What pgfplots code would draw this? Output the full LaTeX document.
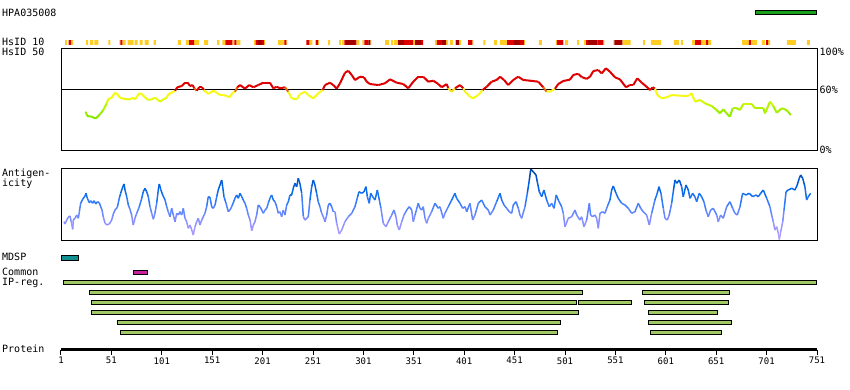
\documentclass[border=0pt]{standalone}
\usepackage{pgfplots}
\pgfplotsset{compat=1.18}
\usepackage{fontspec}
\setmainfont{DejaVu Sans Mono}
\definecolor{bandY}{RGB}{255,204,34}
\definecolor{bandR}{RGB}{222,0,0}
\definecolor{bandD}{RGB}{165,0,0}
\definecolor{mdsp}{RGB}{16,144,144}
\definecolor{common}{RGB}{200,32,156}
\definecolor{ipreg}{RGB}{160,200,100}
\definecolor{topgreen}{RGB}{26,160,26}
\pgfplotsset{
  colormap={hsid}{rgb255(30pt)=(130,228,0) rgb255(38pt)=(155,238,0) rgb255(45pt)=(200,248,0) rgb255(52pt)=(245,250,20) rgb255(59pt)=(250,248,30) rgb255(60pt)=(222,0,0) rgb255(100pt)=(222,0,0)},
  colormap={antig}{rgb255(0pt)=(185,165,255) rgb255(12pt)=(160,150,255) rgb255(22pt)=(125,140,255) rgb255(32pt)=(80,130,255) rgb255(42pt)=(30,118,245) rgb255(52pt)=(0,100,228) rgb255(62pt)=(0,78,196) rgb255(72pt)=(0,58,150)},
  trk/.style={scale only axis, width=756bp, xmin=1, xmax=751, anchor=north west},
  feat/.style={draw=black, line width=0.8bp},
}
\begin{document}
\begin{tikzpicture}[font=\fontsize{10bp}{11bp}\selectfont]
\path[fill=white,use as bounding box] (0,0) rectangle (850bp,-390bp);

% labels
\node[anchor=base west,inner sep=0] at (2bp,-16bp) {HPA035008};
\node[anchor=base west,inner sep=0] at (2bp,-45bp) {HsID 10};
\node[anchor=base west,inner sep=0] at (2bp,-55.7bp) {HsID 50};
\node[anchor=base west,inner sep=0] at (2bp,-176bp) {Antigen-};
\node[anchor=base west,inner sep=0] at (2bp,-186.5bp) {icity};
\node[anchor=base west,inner sep=0] at (2bp,-260.5bp) {MDSP};
\node[anchor=base west,inner sep=0] at (2bp,-275.3bp) {Common};
\node[anchor=base west,inner sep=0] at (2bp,-285bp) {IP-reg.};
\node[anchor=base west,inner sep=0] at (2bp,-352.5bp) {Protein};
\node[anchor=base west,inner sep=0] at (819.5bp,-55.3bp) {100\%};
\node[anchor=base west,inner sep=0] at (819.5bp,-93.3bp) {60\%};
\node[anchor=base west,inner sep=0] at (819.5bp,-153.3bp) {0\%};

% top green bar
\begin{axis}[trk, at={(61bp,-10bp)}, height=5bp, ymin=0, ymax=1, hide axis, clip=false]
\addplot[feat, fill=topgreen] coordinates {(690.1,0.12)(750.7,0.12)(750.7,0.92)(690.1,0.92)} -- cycle;
\end{axis}

% HsID 10 band
\begin{axis}[trk, at={(61bp,-40bp)}, height=5bp, ymin=0, ymax=1, hide axis]
\addplot[const plot, fill=bandY, draw=none] coordinates {(1,0)
(5,1)(7,0)(11,1)(13,0)(26,1)(28,0)(30,1)(33,0)(34,1)(38,0)(48,1)(50,0)
(59,1)(60,0)(62,1)(65,0)(67,1)(73,0)(74,1)(77,0)(79,1)(82,0)(84,1)(88,0)
(93,1)(95,0)(117,1)(120,0)(125,1)(128,0)(133,1)(138,0)(143,1)(147,0)
(156,1)(158,0)(161,1)(164,0)(171,1)(173,0)(175,1)(179,0)(192.5,1)(194,0)
(202.5,1)(203.5,0)(216.5,1)(222.5,0)(224.5,1)(225.5,0)(247.3,1)(250.3,0)
(253,1)(254,0)(256,1)(257,0)(266,1)(268,0)(277,1)(279,0)(280,1)(282,0)
(294,1)(297,0)(300,1)(302,0)(308,1)(309,0)(322.5,1)(326.5,0)(328.5,1)(330.5,0)
(331.5,1)(335.5,0)(350.3,1)(352.3,0)(372,1)(374,0)(383,1)(385,0)(387,1)(390,0)
(392,1)(393,0)(396,1)(398,0)(409,1)(410,0)(420,1)(422,0)(430.5,1)(433.5,0)
(436.5,1)(443.5,0)(460.5,1)(461.5,0)(475,1)(478,0)(492,1)(493,0)(499,1)(500,0)
(501,1)(504,0)(513,1)(515,0)(520,1)(522,0)(539,1)(540,0)(549,1)(550,0)
(558,1)(566,0)(578.4,1)(580.4,0)(586.3,1)(596.3,0)(609,1)(614,0)(616,1)(618,0)
(627,1)(630,0)(636,1)(641,0)(643,1)(646,0)(676.6,1)(683.5,0)(685.5,1)(691.5,0)
(696.4,1)(699.4,0)(702.4,1)(704.4,0)(721,1)(730,0)(741,1)(744,0)(751,0)} \closedcycle;
\addplot[const plot, fill=bandR, draw=none] coordinates {(1,0)
(8.5,1)(11,0)(60,1)(62,0)(128,1)(133,0)(164,1)(171,0)(173,1)(175,0)
(194,1)(196.5,0)(200.5,1)(202.5,0)(222.5,1)(224.5,0)(244.3,1)(247.3,0)
(254,1)(256,0)(282,1)(283.5,0)(292.5,1)(294,0)(302,1)(306,0)(341.3,1)(350.3,0)
(358.3,1)(360.3,0)(374,1)(379,0)(405,1)(409,0)(443.5,1)(450.5,0)(456.5,1)(460.5,0)
(493,1)(499,0)(522,1)(524,0)(533,1)(539,0)(630,1)(636,0)(641,1)(643,0)
(683.5,1)(685.5,0)(700.4,1)(702.4,0)(751,0)} \closedcycle;
\addplot[const plot, fill=bandD, draw=none] coordinates {(1,0)
(196.5,1)(200.5,0)(283.5,1)(292.5,0)(306,1)(308,0)(335.5,1)(341.3,0)
(352.3,1)(358.3,0)(379,1)(383,0)(393,1)(396,0)(450.5,1)(456.5,0)
(524,1)(533,0)(550,1)(558,0)(751,0)} \closedcycle;
\end{axis}

% HsID 50
\begin{axis}[trk, at={(61bp,-48.5bp)}, height=101.5bp, ymin=0, ymax=100,
  xtick=\empty, ytick=\empty, axis line style={line width=1bp},
  colormap name=hsid, point meta min=30, point meta max=100]
\addplot[black, line width=1bp] coordinates {(1,60) (751,60)};
\addplot[mesh, point meta=y, line width=2bp] table {
25.5 37.7
27 33.5
31.5 32.8
34.7 31.2
36.4 31.8
39.7 35.2
43 39.4
46.3 46
47.9 50
51.3 51.5
54.6 56.4
56.9 54.9
59.5 51.5
64.5 50.2
69.5 49.9
72.7 51.5
74.4 49.9
78.7 55.9
81 55.2
84.3 51.9
87.6 49.3
91 49.9
94.3 51.5
97.5 49.3
99.2 47.6
102.5 49.9
105.9 51.5
107.4 54.9
110.8 56.4
114.1 58.4
116.4 61.8
120.7 63
124 66.3
126.7 66.3
129 63
131.6 64
133.2 60.8
135.6 58.4
138.2 61.8
140.9 61.8
142.9 59.1
147.1 55.2
152.1 58.4
155.5 56.4
158.7 54.2
162 54.2
165.4 53.2
168 51.9
171.3 56.4
173.6 57.4
175.9 61.8
178.6 64
183.5 60.5
187.8 64
191.8 61.8
196.7 64
201.7 66.3
208.3 66.3
211.6 60.8
215 62.3
218.3 60.8
223.2 61.8
226.5 57.4
229.9 50.9
234.8 49.9
238.1 55
243 57.4
246.3 54.2
251.3 50.9
256.2 55.8
260.6 59.1
262.9 64
267.8 66.3
271.1 64
274.5 60.5
277.8 65.7
282.7 76.1
286 78.1
289.4 73.9
292.7 68.9
297.6 72.2
301.6 71.6
304.3 67.3
307.5 65
315.8 64
322.4 65.7
327.4 69.6
334 66.3
340.6 65
345.5 60.8
350.5 67.3
355.4 72.2
360.4 72.2
365.4 67.3
370.3 68.3
375.3 65
378.7 61.8
383.6 65
385.2 60.8
388.6 57.4
391.9 60.8
396.8 64
400.1 60.8
401.8 57.4
406.7 52.5
410 50.9
415 54.2
419.3 59.1
423.3 62.3
428.2 67.3
433.2 69
436.5 72.2
440.5 69
444.7 64
449.7 69
454.6 72.2
459.6 69
466.2 68.3
474.5 67.3
479.4 61.8
482.8 57.4
486.1 57.5
491 60.3
494.3 65
499.3 68
505.9 69.3
509.2 73.9
514.2 75.1
517.5 71.9
522.5 70.1
525.8 72.2
529.1 77.8
534 78.8
537.4 75.5
541.6 80.5
545.6 77.1
550.6 71.6
555.5 69.6
561.5 61.8
565.4 64
568.7 64
572.7 70.6
577.1 66.3
582 62.3
585.3 59.1
588 61.8
590.3 60.5
592.6 54.2
596.9 50.9
601.9 51.9
606.8 54.2
615 53.5
623.3 53.2
626.6 55.8
629.9 47.6
634.9 49.3
639.8 46
646.5 43.3
651.4 39.4
654.7 36.1
658 40.1
661.4 36.1
664.6 32.8
667.3 41.1
671.3 41.1
674.6 39.4
677.9 45.3
686.2 45.3
689.5 41.1
697.8 41.1
699.4 36.1
704.4 47.6
707.7 43.3
711 36.7
716 41.1
719.2 40.1
722.5 37.7
724.9 34.5
};
\end{axis}

% Antigenicity
\begin{axis}[trk, at={(61bp,-168.3bp)}, height=71.7bp, ymin=0, ymax=71.7,
  xtick=\empty, ytick=\empty, axis line style={line width=1bp},
  colormap name=antig, point meta min=0, point meta max=72]
\addplot[mesh, point meta=y, line width=1.5bp] table {
4.0 18.3
5.0 16
6.7 20
8.2 22.7
9.9 24
11.2 18.3
12.6 10.7
13.2 20
14.9 21.7
16.6 25
18.2 21.7
19.2 28.3
20.5 36.7
22.5 40.7
24.8 44
25.8 46.7
27.1 41.7
29.1 37.3
30.5 39.3
32.4 36.7
33.7 39.3
35.7 36
37.0 38.3
39.0 37.3
40.4 33.3
41.7 30
43.0 22.7
44.6 17.3
46.3 15
48.9 16
51.3 20
52.9 26
54.6 30
56.9 32.7
58.8 41.7
60.2 46.7
62.2 52.7
63.5 56
64.5 50
66.2 43.3
67.8 35
69.4 30.7
71.1 25
72.7 15
74.4 21.7
76.1 26.7
78.7 33.3
81.1 41.7
82.6 48.3
84.3 51.7
86.0 48.3
87.6 43.3
89.3 33.3
91.0 26.7
92.6 20.7
94.2 26.7
95.9 36.7
97.5 50
98.5 56
99.9 50.7
101.9 45
104.2 40
105.9 33.3
107.4 28.3
109.1 23.3
110.8 31.7
112.4 25
114.1 18.3
115.8 26.7
117.4 25
119.0 28.3
120.7 25
122.3 31.7
124.0 21.7
125.7 18.3
127.3 11.7
129.0 15
130.7 10
132.2 5
133.9 13.3
135.6 18.3
137.2 21.7
138.9 15
140.6 20
142.2 23.3
143.8 26.7
145.5 33.3
147.1 43.3
148.8 42.7
150.5 33.3
152.1 31.7
153.8 35
155.5 43.3
157.0 50
158.7 55
160.4 60
161.4 53.3
162.7 43.3
164.7 36.7
167.0 28.3
168.6 30
170.3 33.3
171.9 37.3
173.6 41.7
175.3 45
176.9 41.7
178.6 46.7
180.3 43.3
181.8 40
183.5 36.7
185.2 31.7
186.8 25
188.5 20
190.2 9.3
191.8 15
193.4 18.3
195.1 25
196.7 35
198.4 33.3
200.1 30
201.7 26.7
203.4 30
205.1 31.7
206.6 36.7
208.3 41.7
210.0 45
211.6 40
213.3 38.3
215.0 33.3
216.6 26.7
218.2 28.3
219.9 23.3
221.5 30
223.2 25
224.9 35
226.5 38.3
228.2 45
229.8 45
231.5 52
233.1 56.7
234.8 53.3
236.4 61.7
238.1 56
239.8 46.7
241.4 23.3
243.0 20
246.3 23.3
248.0 40
249.7 53.3
251.3 60
252.9 55
254.6 46.7
256.2 38.3
257.9 33.3
259.6 26.7
261.2 23.3
262.9 18.3
264.6 25
266.2 35
267.8 36.7
269.5 33.3
271.1 28.3
272.8 28.3
274.5 16.7
277.1 6
279.5 10
282.7 18.3
286.0 23.3
289.4 26.7
292.6 33.3
294.9 41.7
296.6 48.3
299.3 46.7
301.6 48.3
303.6 53.3
304.9 43.3
306.8 36.7
308.2 46.7
310.2 43.3
312.5 40
314.8 50
316.8 40
318.4 31.7
320.7 16.7
323.4 13.3
325.7 18.3
329.1 25
331.3 30
333.3 23.3
334.6 15
336.6 10
339.0 18.3
341.3 25
344.0 30
346.5 33.3
348.9 30
350.5 18.3
352.2 25
355.4 36.7
357.1 31.7
358.8 30
360.4 33.3
362.1 21.7
363.8 16.7
365.4 21.7
368.7 28.3
372.0 36.7
375.3 31.7
377.0 33.3
380.2 21.7
381.9 26.7
385.2 33.3
388.6 40
391.8 46.7
393.5 41.7
396.8 36.7
399.5 31.7
401.8 33.3
403.5 28.3
406.7 36.7
409.4 20
411.7 25
415.0 36.7
418.3 40
421.6 33.3
424.9 30
426.6 25
429.8 30
433.2 38.3
436.5 46.7
438.2 40
440.5 35
443.1 31.7
445.7 28.3
448.1 26.7
449.7 35
452.4 38.3
454.7 31.7
456.3 25
458.0 21.7
461.3 33.3
463.6 46.7
465.6 60
467.0 70.7
469.5 68.3
472.2 65
473.5 58.3
475.5 48.3
477.9 43.3
480.1 50
482.8 40
485.4 33.3
487.8 36.7
490.1 31.7
492.3 45
494.3 40
497.7 33.3
499.3 26.7
501.0 13.3
504.2 21.7
507.6 23.3
510.9 30
512.6 25
515.8 20
517.5 23.3
519.8 13.3
522.5 20
525.1 36.7
526.4 25
528.4 23.3
530.7 25
532.4 21.7
534.0 11.7
535.7 26.7
538.4 28.3
540.6 26.7
542.9 33.3
545.6 40
547.3 50
548.9 54
551.6 46.7
553.8 41.7
557.2 36.7
560.5 35
563.8 31.7
567.1 26.7
570.4 28.3
573.7 36.7
576.1 31.7
578.6 28.3
582.0 25
584.6 15
587.0 26.7
590.2 40
592.5 46.7
594.2 53.3
596.2 46.7
598.5 31.7
600.2 21.7
602.5 20
604.4 25
606.8 36.7
608.4 48.3
610.1 60
611.8 56.7
614.4 60
616.7 53.3
618.3 43.3
621.0 55
623.3 50
625.0 41.7
627.6 46.7
629.9 43.3
631.6 38.3
634.2 46.7
636.5 43.3
638.8 38.3
640.8 30
643.1 23.3
645.5 30
648.1 31.7
651.5 25
653.0 18.3
655.4 25
658.0 21.7
661.4 33.3
664.6 38.3
667.3 31.7
669.6 26.7
671.9 25
674.6 33.3
677.2 46.7
680.5 45
683.8 46.7
687.2 43.3
690.4 45
692.7 43.3
695.1 46.7
697.7 50
701.1 41.7
704.3 33.3
706.0 25
707.6 18.3
709.3 10
711.0 13.3
712.6 6.7
713.6 0.5
715.0 8.3
717.0 18.3
718.3 30
720.3 48.3
722.5 50
725.9 51.7
729.1 50
731.4 55
733.4 61.7
734.8 65
736.8 61.7
739.0 53.3
740.7 40
742.3 43.3
744.7 46.7
};
\end{axis}

% features
\begin{axis}[trk, at={(61bp,-250bp)}, height=90bp, ymin=0, ymax=9, y dir=reverse, hide axis, clip=false]
\addplot[feat, fill=mdsp] coordinates {(1.3,0.53)(18.6,0.53)(18.6,1.0)(1.3,1.0)} -- cycle;
\addplot[feat, fill=common] coordinates {(72.8,2.04)(87,2.04)(87,2.44)(72.8,2.44)} -- cycle;
\addplot[feat, fill=ipreg] coordinates {(3.4,3.05)(750,3.05)(750,3.41)(3.4,3.41)} -- cycle;
\addplot[feat, fill=ipreg] coordinates {(29.3,4.05)(517.8,4.05)(517.8,4.41)(29.3,4.41)} -- cycle;
\addplot[feat, fill=ipreg] coordinates {(577.7,4.05)(663.9,4.05)(663.9,4.41)(577.7,4.41)} -- cycle;
\addplot[feat, fill=ipreg] coordinates {(31.5,5.05)(511.9,5.05)(511.9,5.41)(31.5,5.41)} -- cycle;
\addplot[feat, fill=ipreg] coordinates {(513.9,5.05)(566.4,5.05)(566.4,5.41)(513.9,5.41)} -- cycle;
\addplot[feat, fill=ipreg] coordinates {(580,5.05)(662.7,5.05)(662.7,5.41)(580,5.41)} -- cycle;
\addplot[feat, fill=ipreg] coordinates {(31.5,6.05)(513.9,6.05)(513.9,6.41)(31.5,6.41)} -- cycle;
\addplot[feat, fill=ipreg] coordinates {(583.3,6.05)(651.8,6.05)(651.8,6.41)(583.3,6.41)} -- cycle;
\addplot[feat, fill=ipreg] coordinates {(57.2,7.05)(496,7.05)(496,7.41)(57.2,7.41)} -- cycle;
\addplot[feat, fill=ipreg] coordinates {(583.3,7.05)(665.6,7.05)(665.6,7.41)(583.3,7.41)} -- cycle;
\addplot[feat, fill=ipreg] coordinates {(60,8.05)(493,8.05)(493,8.41)(60,8.41)} -- cycle;
\addplot[feat, fill=ipreg] coordinates {(585.9,8.05)(656.3,8.05)(656.3,8.41)(585.9,8.41)} -- cycle;
\end{axis}

% protein axis
\begin{axis}[scale only axis, width=756bp, height=1bp, at={(61bp,-349.7bp)}, anchor=south west,
  xmin=1, xmax=751, ymin=0, ymax=1, axis x line*=bottom, axis y line=none,
  x axis line style={line width=3bp, black},
  xtick={1,51,...,751}, ytick=\empty, tick align=outside, major tick length=5bp,
  xtick style={line width=1bp, black},
  /pgf/number format/assume math mode=true,
  xticklabel style={font=\fontsize{9bp}{10bp}\selectfont, inner sep=2.5bp}]
\addplot[draw=none] coordinates {(1,0)(751,0)};
\end{axis}
\end{tikzpicture}
\end{document}
